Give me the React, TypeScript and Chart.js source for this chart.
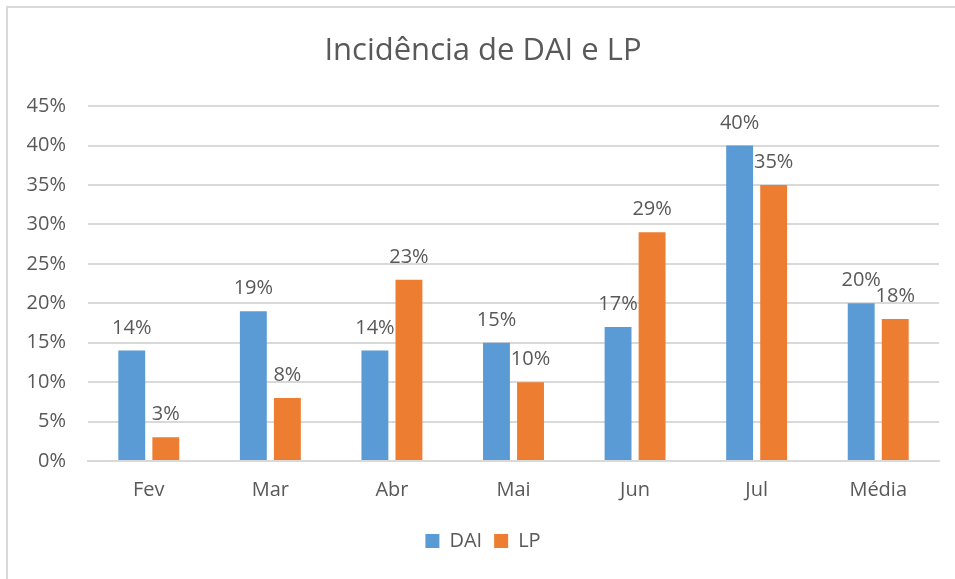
import React, { useEffect, useRef } from "react";
import { Chart, registerables } from "chart.js";

Chart.register(...registerables);

const categories = ["Fev", "Mar", "Abr", "Mai", "Jun", "Jul", "Média"];
const daiValues = [14, 19, 14, 15, 17, 40, 20];
const lpValues = [3, 8, 23, 10, 29, 35, 18];
const seriesNames = ["DAI", "LP"];
const titleText = "Incidência de DAI e LP";

const FONT = "'Open Sans', 'DejaVu Sans', sans-serif";
const TEXT = "#595959";
const GRID = "#d9d9d9";

const valueLabels = {
  id: "valueLabels",
  afterDatasetsDraw(chart: any) {
    const ctx = chart.ctx;
    ctx.save();
    ctx.font = `20px ${FONT}`;
    ctx.fillStyle = TEXT;
    ctx.textAlign = "center";
    ctx.textBaseline = "alphabetic";
    chart.data.datasets.forEach((ds: any, i: number) => {
      const meta = chart.getDatasetMeta(i);
      meta.data.forEach((bar: any, j: number) => {
        ctx.fillText(`${ds.data[j]}%`, bar.x, bar.y - 17);
      });
    });
    ctx.restore();
  },
};

export default function App() {
  const ref = useRef<HTMLCanvasElement | null>(null);
  useEffect(() => {
    if (!ref.current) return;
    const chart = new Chart(ref.current, {
      type: "bar",
      data: {
        labels: categories,
        datasets: [
          { label: seriesNames[0], data: daiValues, backgroundColor: "#5B9BD5" },
          { label: seriesNames[1], data: lpValues, backgroundColor: "#ED7D31" },
        ],
      },
      options: {
        responsive: false,
        animation: false,
        layout: { padding: { top: 33, right: 16, bottom: 18, left: 27 } },
        datasets: { bar: { categoryPercentage: 0.56, barPercentage: 0.79 } },
        plugins: {
          title: {
            display: true,
            text: titleText,
            color: TEXT,
            font: { family: FONT, size: 31, weight: "normal" },
            padding: { top: 0, bottom: 36 },
          },
          legend: {
            position: "bottom",
            labels: {
              color: TEXT,
              font: { family: FONT, size: 20 },
              boxWidth: 14,
              boxHeight: 14,
              padding: 12,
            },
          },
          tooltip: { enabled: false },
        },
        scales: {
          x: {
            grid: { display: false, drawTicks: false },
            border: { display: true, color: GRID, width: 2 },
            ticks: { color: TEXT, font: { family: FONT, size: 20 }, padding: 17 },
          },
          y: {
            min: 0,
            max: 45,
            grid: { color: GRID, lineWidth: 2, drawTicks: false },
            border: { display: false },
            ticks: {
              stepSize: 5,
              color: TEXT,
              font: { family: FONT, size: 20 },
              padding: 22,
              callback: (v: any) => `${v}%`,
            },
            afterFit: (s: any) => {
              s.width = 61;
            },
          },
        },
      },
      plugins: [valueLabels],
    });
    return () => chart.destroy();
  }, []);
  return (
    <div style={{ position: "fixed", left: 0, top: 0, width: 955, height: 579, background: "#fff" }}>
      <div
        style={{
          position: "absolute",
          left: 6,
          top: 6,
          right: 0,
          bottom: 0,
          borderTop: `2px solid ${GRID}`,
          borderLeft: `2px solid ${GRID}`,
        }}
      />
      <canvas ref={ref} width={955} height={579} style={{ position: "absolute", left: 0, top: 0 }} />
    </div>
  );
}
